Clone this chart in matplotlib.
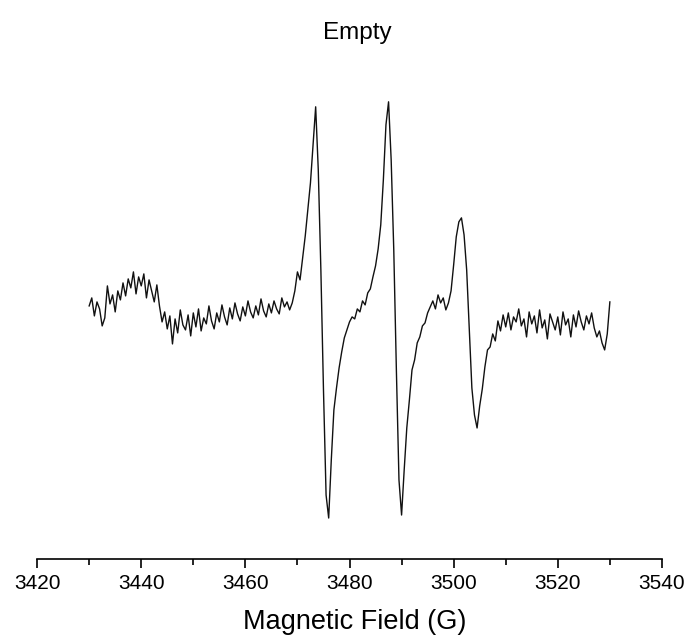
import numpy as np
import matplotlib
matplotlib.use("Agg")
import matplotlib.pyplot as plt
from matplotlib.ticker import MultipleLocator

# --- DATA ---------------------------------------------------------------------
# EPR spectrum, one value every 0.5 G from 3430 to 3530 G
field_start = 3430.0
field_step  = 0.5

signal = [
    # 3430 - 3434.5
    4, 12, -6, 8, 1, -16, -8, 24, 6, 15,
    # 3435 - 3439.5
    -2, 19, 10, 27, 14, 31, 22, 38, 16, 33,
    # 3440 - 3444.5
    24, 36, 12, 30, 19, 8, 25, 4, -12, -2,
    # 3445 - 3449.5
    -19, -6, -34, -9, -23, 0, -15, -20, -5, -26,
    # 3450 - 3454.5
    -3, -17, 1, -21, -8, -14, 4, -11, -19, -3,
    # 3455 - 3459.5
    -12, 5, -7, -15, 2, -9, 7, -4, -11, 3,
    # 3460 - 3464.5
    -6, 9, -2, -8, 4, -5, 11, -1, -7, 6,
    # 3465 - 3469.5
    -3, 9, 1, -4, 12, 3, 8, 0, 7, 19,
    # 3470 - 3474.5
    38, 30, 52, 74, 100, 127, 165, 203, 140, 40,
    # 3475 - 3479.5
    -80, -185, -208, -150, -100, -78, -58, -42, -28, -20,
    # 3480 - 3484.5
    -12, -7, -9, 1, -2, 9, 5, 17, 21, 33,
    # 3485 - 3489.5
    44, 61, 85, 130, 185, 208, 150, 60, -60, -170,
    # 3490 - 3494.5
    -205, -160, -118, -90, -60, -50, -33, -27, -16, -13,
    # 3495 - 3499.5
    -3, 3, 9, 1, 15, 7, 12, 0, 7, 19,
    # 3500 - 3504.5
    45, 73, 88, 92, 75, 40, -20, -78, -105, -118,
    # 3505 - 3509.5
    -96, -79, -57, -40, -37, -24, -31, -11, -21, -5,
    # 3510 - 3514.5
    -17, -3, -20, -7, -12, 1, -16, -9, -27, -2,
    # 3515 - 3519.5
    -14, -6, -23, 0, -18, -10, -29, -4, -12, -20,
    # 3520 - 3524.5
    -7, -25, -2, -15, -9, -27, -5, -17, -1, -12,
    # 3525 - 3529.5
    -20, -6, -14, -3, -18, -27, -21, -33, -40, -24,
    # 3530
    8,
]

field = field_start + field_step * np.arange(len(signal))

# --- PLOT ---------------------------------------------------------------------
plt.rcParams["font.family"] = ["Liberation Sans", "DejaVu Sans"]

fig = plt.figure(figsize=(6.87, 6.36), dpi=100)
ax = fig.add_axes([0.054, 0.121, 0.9095, 0.785])

ax.plot(field, signal, color="#111111", linewidth=1.0)

ax.set_xlim(3420, 3540)
ax.set_ylim(-249, 250)

ax.xaxis.set_major_locator(MultipleLocator(20))
ax.xaxis.set_minor_locator(MultipleLocator(10))
ax.tick_params(axis="x", which="major", direction="out", length=6.5, width=1.2,
               labelsize=15, pad=4)
ax.tick_params(axis="x", which="minor", direction="out", length=4, width=1.2)
ax.set_yticks([])

for side in ["left", "top", "right"]:
    ax.spines[side].set_visible(False)
ax.spines["bottom"].set_linewidth(1.2)

ax.set_xlabel("Magnetic Field (G)", fontsize=19.5, labelpad=12)
ax.xaxis.label.set_x(0.509)
fig.text(357 / 687, 1 - 33 / 636, "Empty", fontsize=17.5, ha="center", va="center")

fig.savefig("out.png", dpi=100)
